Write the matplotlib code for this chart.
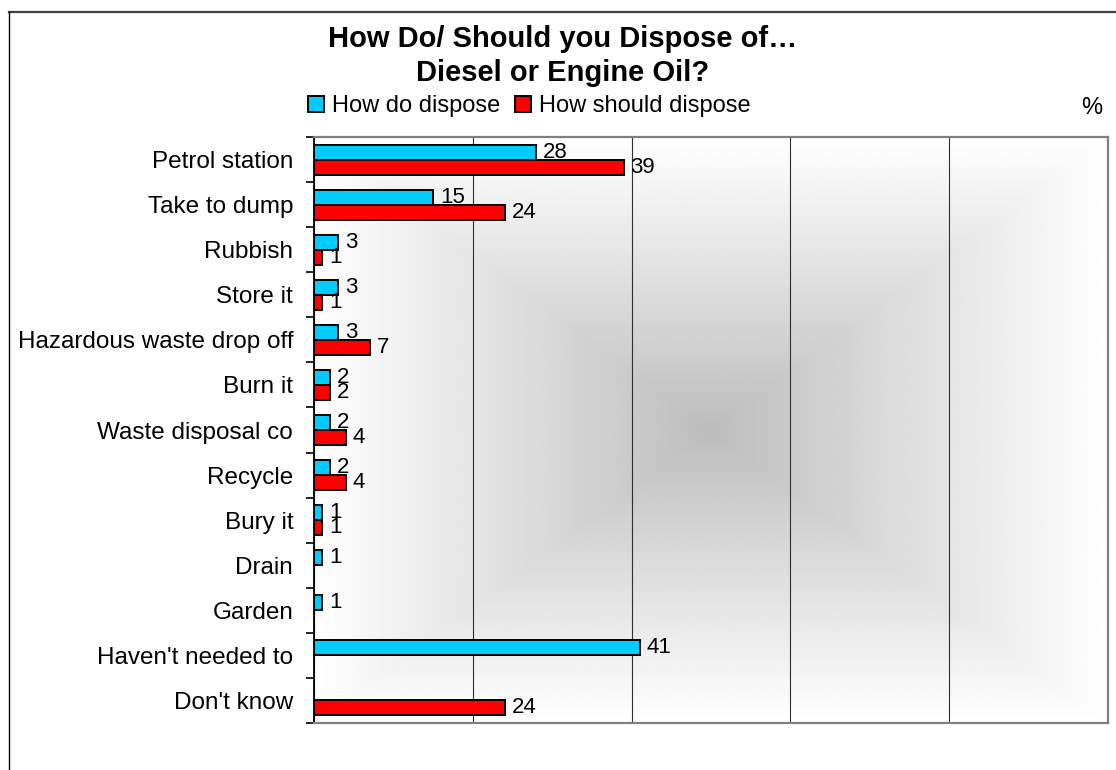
import numpy as np
import matplotlib
matplotlib.use('Agg')
import matplotlib.pyplot as plt
from matplotlib.patches import Patch
from matplotlib.lines import Line2D

plt.rcParams['font.family'] = ['Liberation Sans', 'DejaVu Sans']

categories = ["Petrol station", "Take to dump", "Rubbish", "Store it",
              "Hazardous waste drop off", "Burn it", "Waste disposal co",
              "Recycle", "Bury it", "Drain", "Garden", "Haven't needed to",
              "Don't know"]
how_do = [28, 15, 3, 3, 3, 2, 2, 2, 1, 1, 1, 41, 0]
how_should = [39, 24, 1, 1, 7, 2, 4, 4, 1, 0, 0, 0, 24]
series_names = ["How do dispose", "How should dispose"]

cyan = '#00CCFF'
red = '#FF0000'

W, H = 1116, 770
fig = plt.figure(figsize=(W / 100, H / 100), dpi=100)
ax = fig.add_axes([314 / W, 1 - 723 / H, (1108 - 314) / W, (723 - 137) / H])

n = len(categories)
ax.set_xlim(0, 100)
ax.set_ylim(n - 0.5, -0.5)

# rectangular "from centre" gradient background
g = np.linspace(-1, 1, 300)
u, v = np.meshgrid(g, g)
t = np.maximum(np.abs(u), np.abs(v))
shade = 0.74 + 0.26 * t
ax.imshow(shade, cmap='gray', vmin=0, vmax=1, extent=[0, 100, n - 0.5, -0.5],
          aspect='auto', zorder=0, interpolation='bilinear')

bh = 1 / 3
y = np.arange(n)
for vals, off, col in [(how_do, -bh / 2, cyan), (how_should, bh / 2, red)]:
    for i, val in enumerate(vals):
        if val == 0:
            continue
        ax.barh(y[i] + off, val, height=bh, color=col, edgecolor='black',
                linewidth=1.4, zorder=3)
        ax.annotate(str(val), (val, y[i] + off), xytext=(5, 0),
                    textcoords='offset points', va='center', ha='left',
                    fontsize=16, zorder=4)

# grid
ax.set_xticks([0, 20, 40, 60, 80, 100])
ax.set_xticklabels([])
ax.tick_params(axis='x', length=0)
ax.grid(axis='x', color='#303030', linewidth=0.8, zorder=1)
ax.set_axisbelow(True)

ax.set_yticks(y)
ax.set_yticklabels(categories, fontsize=17.5)
ax.tick_params(axis='y', which='major', length=0, pad=15)
ax.set_yticks(np.arange(-0.5, n, 1), minor=True)
ax.tick_params(axis='y', which='minor', length=6, width=1.2, direction='out',
               color='black')

ax.spines['left'].set_color('black')
ax.spines['left'].set_linewidth(1.3)
for s in ['top', 'right', 'bottom']:
    ax.spines[s].set_color('#808080')
    ax.spines[s].set_linewidth(1.6)

# title
fig.text(563 / W, 1 - 47 / H, "How Do/ Should you Dispose of…", ha='center',
         va='baseline', fontsize=21, fontweight='bold')
fig.text(563 / W, 1 - 81 / H, "Diesel or Engine Oil?", ha='center',
         va='baseline', fontsize=21, fontweight='bold')

handles = [Patch(facecolor=cyan, edgecolor='black', linewidth=1.4),
           Patch(facecolor=red, edgecolor='black', linewidth=1.4)]
fig.legend(handles, series_names, loc='center left',
           bbox_to_anchor=(308 / W, 1 - 106 / H), ncol=2, frameon=False,
           fontsize=17, handlelength=0.68, handleheight=0.68,
           handletextpad=0.35, columnspacing=0.6, borderpad=0,
           borderaxespad=0)
fig.text(1092 / W, 1 - 114 / H, "%", ha='center', va='baseline', fontsize=17)

# outer chart frame (cropped)
fig.add_artist(Line2D([9 / W, 1], [1 - 12 / H, 1 - 12 / H], color='#404040',
                      linewidth=1.6))
fig.add_artist(Line2D([9 / W, 9 / W], [0, 1 - 12 / H], color='black',
                      linewidth=1.0))

plt.savefig('out.png', dpi=100)
